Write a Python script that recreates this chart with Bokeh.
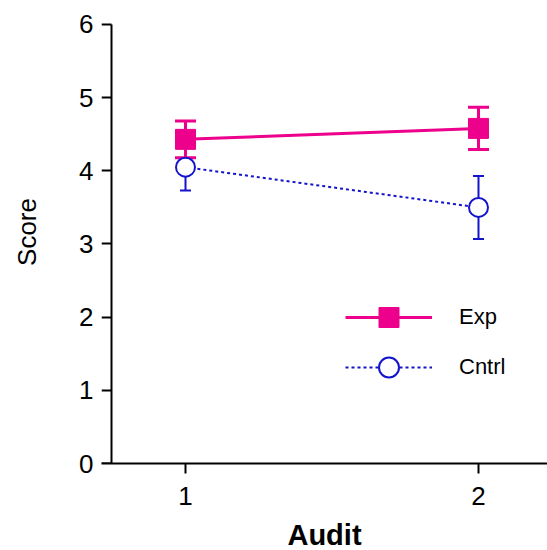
from bokeh.plotting import figure
from bokeh.models import (ColumnDataSource, Whisker, TeeHead, Legend, LegendItem,
                          FixedTicker, Range1d, LinearAxis, CustomLabelingPolicy)
from bokeh.embed import file_html
from bokeh.resources import INLINE

# ---- data ----
audit = [1, 2]
exp_mean = [4.43, 4.58]
exp_sem = [0.25, 0.29]
cntrl_mean = [4.05, 3.50]
cntrl_sem = [0.32, 0.43]
y_ticks = [0, 1, 2, 3, 4, 5, 6]
x_ticks = [1, 2]
series_names = ["Exp", "Cntrl"]

MAG = "#EC008C"
BLUE = "#1414CC"
FONT = "Liberation Sans"
Y_AXIS_AT = 0.7474   # where the y-axis line crosses the x-axis

p = figure(frame_width=446, frame_height=463, output_backend="svg",
           toolbar_location=None,
           x_range=Range1d(0.7133, 2.2355), y_range=Range1d(0, 6.328),
           min_border_left=101, min_border_right=0, min_border_top=0,
           min_border_bottom=0)
p.outline_line_color = None
p.grid.visible = False
p.background_fill_color = "white"
p.border_fill_color = "white"

# x axis
xa = p.xaxis[0]
xa.ticker = FixedTicker(ticks=x_ticks)
xa.axis_line_width = 2
xa.axis_line_color = "black"
xa.major_tick_line_width = 2
xa.major_tick_line_color = "black"
xa.major_tick_out = 10
xa.major_tick_in = 0
xa.minor_tick_line_color = None
xa.major_label_text_font = FONT
xa.major_label_text_font_size = "26px"
xa.major_label_text_color = "black"
xa.major_label_standoff = 13
xa.axis_label = "Audit"
xa.axis_label_text_font = FONT
xa.axis_label_text_font_style = "bold"
xa.axis_label_text_font_size = "29px"
xa.axis_label_text_color = "black"
xa.axis_label_standoff = 11

# y axis labels (at frame edge, no line/ticks)
ya = p.yaxis[0]
ya.ticker = FixedTicker(ticks=y_ticks)
ya.axis_line_color = None
ya.major_tick_line_color = None
ya.minor_tick_line_color = None
ya.major_tick_out = 0
ya.major_tick_in = 0
ya.major_label_text_font = FONT
ya.major_label_text_font_size = "26px"
ya.major_label_text_color = "black"
ya.major_label_standoff = 8
ya.axis_label = "Score"
ya.axis_label_text_font = FONT
ya.axis_label_text_font_style = "normal"
ya.axis_label_text_font_size = "26px"
ya.axis_label_text_color = "black"
ya.axis_label_standoff = 34

# y axis line and ticks (no labels), placed where the reference draws them
no_labels = CustomLabelingPolicy(code="""
    try {
        const n = indices.size
        for (let i = 0; i < n; i++) { indices.unset(i) }
    } catch (e) {}
    return indices
""")
yline = LinearAxis(fixed_location=Y_AXIS_AT, ticker=FixedTicker(ticks=y_ticks),
                   bounds=(y_ticks[0], y_ticks[-1]),
                   axis_line_width=2, axis_line_color="black",
                   major_tick_line_width=2, major_tick_line_color="black",
                   major_tick_out=10, major_tick_in=0,
                   minor_tick_line_color=None,
                   major_label_policy=no_labels,
                   major_label_text_font_size="26px",
                   major_label_text_alpha=0, major_label_standoff=0)
p.add_layout(yline, "left")

# error bars
exp_src = ColumnDataSource(dict(
    x=audit,
    upper=[m + s for m, s in zip(exp_mean, exp_sem)],
    lower=[m - s for m, s in zip(exp_mean, exp_sem)]))
cntrl_src = ColumnDataSource(dict(
    x=audit,
    upper=[m + s for m, s in zip(cntrl_mean, cntrl_sem)],
    lower=[m - s for m, s in zip(cntrl_mean, cntrl_sem)]))

p.add_layout(Whisker(base="x", upper="upper", lower="lower", source=cntrl_src,
                     line_color=BLUE, line_width=2,
                     upper_head=TeeHead(size=11, line_color=BLUE, line_width=2),
                     lower_head=TeeHead(size=11, line_color=BLUE, line_width=2)))
p.add_layout(Whisker(base="x", upper="upper", lower="lower", source=exp_src,
                     line_color=MAG, line_width=3,
                     upper_head=TeeHead(size=21, line_color=MAG, line_width=3),
                     lower_head=TeeHead(size=21, line_color=MAG, line_width=3)))

# series
c_line = p.line(audit, cntrl_mean, line_color=BLUE, line_width=2, line_dash="3 3")
c_pts = p.scatter(audit, cntrl_mean, marker="circle", size=19, fill_color="white",
                  line_color=BLUE, line_width=2)
e_line = p.line(audit, exp_mean, line_color=MAG, line_width=3)
e_pts = p.scatter(audit, exp_mean, marker="square", size=20, fill_color=MAG,
                  line_color=MAG, line_width=1)

legend = Legend(items=[LegendItem(label=series_names[0], renderers=[e_line, e_pts]),
                       LegendItem(label=series_names[1], renderers=[c_line, c_pts])],
                location=(244, 71), glyph_width=87, glyph_height=50,
                label_standoff=27, spacing=0, padding=0, margin=0,
                border_line_color=None, background_fill_alpha=0,
                label_text_font=FONT, label_text_font_size="22px",
                label_text_color="black")
p.add_layout(legend)

open("out.html", "w").write(file_html(p, INLINE))
